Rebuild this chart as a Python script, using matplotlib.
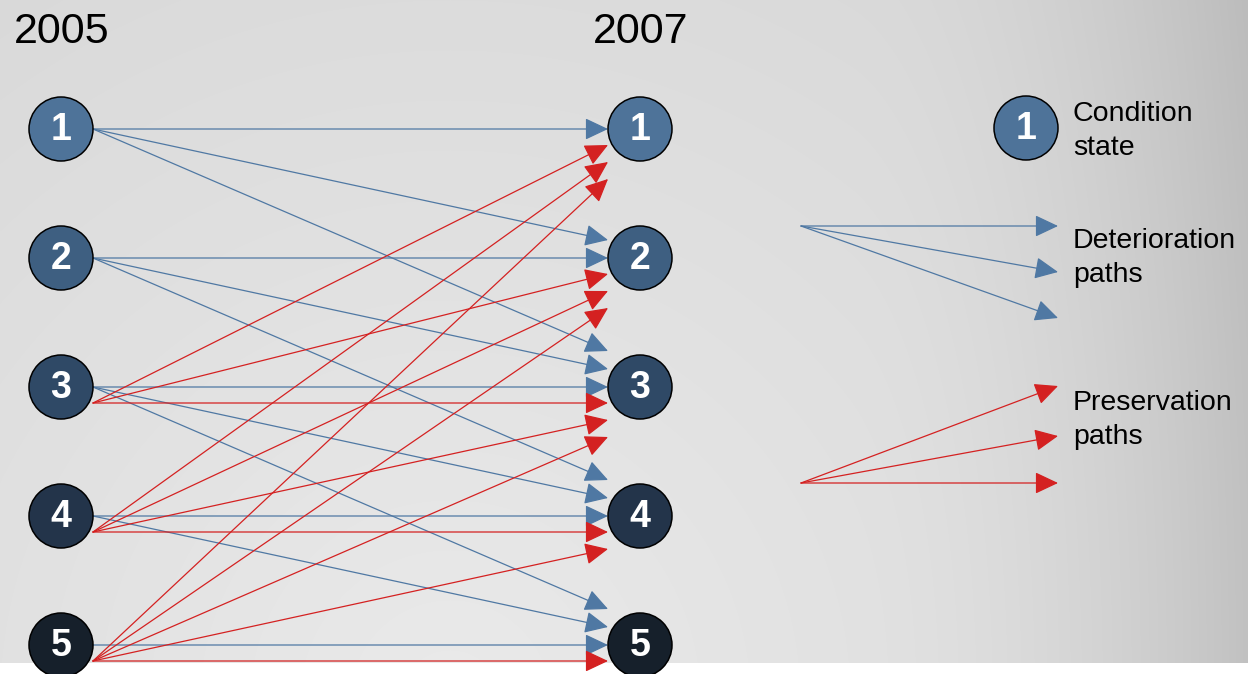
import numpy as np
import matplotlib
matplotlib.use("Agg")
import matplotlib.pyplot as plt
from matplotlib.patches import Circle, FancyArrowPatch, ArrowStyle

plt.rcParams['font.family'] = ['Liberation Sans', 'DejaVu Sans']

# ---- data ----
states = [1, 2, 3, 4, 5]
years = ['2005', '2007']
state_colors = ['#4e7399', '#3e5f81', '#2f4966', '#23344a', '#16202b']
# deterioration paths: (from, to) -- state i goes to i, i+1, i+2
deterioration = [(1, 1), (1, 2), (1, 3),
                 (2, 2), (2, 3), (2, 4),
                 (3, 3), (3, 4), (3, 5),
                 (4, 4), (4, 5),
                 (5, 5)]
# preservation paths: (from, to)
preservation = [(3, 1), (3, 2), (3, 3),
                (4, 1), (4, 2), (4, 3), (4, 4),
                (5, 1), (5, 2), (5, 3), (5, 4), (5, 5)]
legend_labels = ['Condition\nstate', 'Deterioration\npaths', 'Preservation\npaths']

BLUE = '#4f78a3'
RED = '#d42121'

# ---- layout ----
W, H = 1248, 674
fig = plt.figure(figsize=(W / 100, H / 100), dpi=100)
ax = fig.add_axes([0, 0, 1, 1])
ax.set_xlim(0, W)
ax.set_ylim(H, 0)
ax.axis('off')
fig.patch.set_facecolor('white')

# background gradient
bg_bottom = 663
xx, yy = np.meshgrid(np.arange(W), np.arange(bg_bottom))
dist = np.hypot(xx - 450, yy - 700)
b = 234 - 0.02 * dist - 25 * np.clip((xx - 850) / 400, 0, 1) ** 2
b = np.clip(b, 0, 255) / 255.0
ax.imshow(np.dstack([b, b, b]), extent=[0, W, bg_bottom, 0], zorder=0,
          interpolation='bilinear', aspect='auto')

x_left, x_right, r = 61, 640, 32
row0, row_step = 129, 129
ypos = {s: row0 + (s - 1) * row_step for s in states}

x_start = x_left + r
x_tip = x_right - r
lw = 0.9


def arrow(p0, p1, color):
    st = ArrowStyle('-|>', head_length=14.4, head_width=6.8)
    a = FancyArrowPatch(p0, p1, arrowstyle=st, mutation_scale=1, color=color,
                        lw=lw, shrinkA=0, shrinkB=0, zorder=2)
    ax.add_patch(a)


# deterioration arrows
for i, j in deterioration:
    arrow((x_start, ypos[i]), (x_tip, ypos[j] - 18 * (j - i)), BLUE)

# preservation arrows
for i, j in preservation:
    k = i - max(3, j)
    arrow((x_start, ypos[i] + 16), (x_tip, ypos[j] + 16 + 17 * k), RED)

# circles
digit_fs = 27
for xc in (x_left, x_right):
    for s, c in zip(states, state_colors):
        ax.add_patch(Circle((xc, ypos[s]), r, facecolor=c, edgecolor='black',
                            lw=1.1, zorder=3))
        ax.text(xc, ypos[s] + 1, str(s), color='white', fontsize=digit_fs,
                fontweight='bold', ha='center', va='center', zorder=4)

# year titles
ax.text(14, 32, years[0], fontsize=31, ha='left', va='center', color='black')
ax.text(593, 32, years[1], fontsize=31, ha='left', va='center', color='black')

# legend
ax.add_patch(Circle((1026, 128), r, facecolor=state_colors[0], edgecolor='black',
                    lw=1.1, zorder=3))
ax.text(1026, 129, '1', color='white', fontsize=digit_fs, fontweight='bold',
        ha='center', va='center', zorder=4)
lx = 1073
fs = 20.5
for lab, (b1, b2) in zip(legend_labels, [(121, 155), (248, 282), (410, 444)]):
    l1, l2 = lab.split('\n')
    ax.text(lx, b1, l1, fontsize=fs, ha='left', va='baseline')
    ax.text(lx, b2, l2, fontsize=fs, ha='left', va='baseline')

for ty in (226, 272, 318):
    arrow((801, 226), (1058, ty), BLUE)
for ty in (386, 436, 483):
    arrow((801, 483), (1058, ty), RED)

fig.savefig('out.png', dpi=100)
